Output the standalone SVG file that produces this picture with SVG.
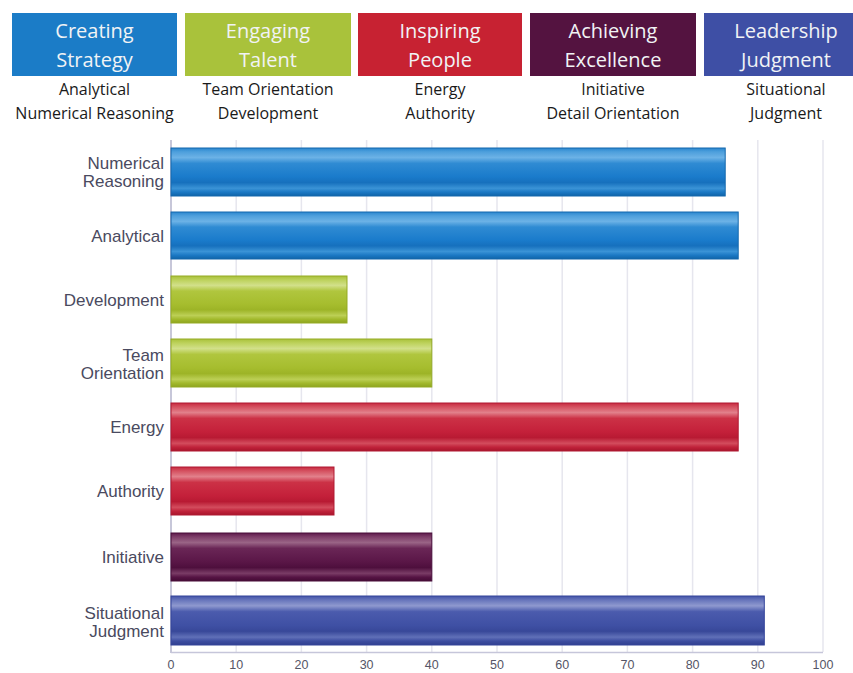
<svg xmlns="http://www.w3.org/2000/svg" width="853" height="673" viewBox="0 0 853 673">
<defs>
<linearGradient id="gBlue" x1="0" y1="0" x2="0" y2="1">
<stop offset="0" stop-color="#2a86cf"/><stop offset="0.08" stop-color="#4d9fdc"/><stop offset="0.2" stop-color="#6cb2e6"/><stop offset="0.32" stop-color="#2f8bd3"/><stop offset="0.6" stop-color="#1a7bcb"/><stop offset="0.72" stop-color="#1670bd"/><stop offset="0.84" stop-color="#3a93d6"/><stop offset="0.92" stop-color="#1b78c4"/><stop offset="1" stop-color="#0f64a8"/>
</linearGradient>
<linearGradient id="gGreen" x1="0" y1="0" x2="0" y2="1">
<stop offset="0" stop-color="#a9c13a"/><stop offset="0.08" stop-color="#bcd15a"/><stop offset="0.2" stop-color="#d2e08a"/><stop offset="0.32" stop-color="#b0c63e"/><stop offset="0.6" stop-color="#a6bd2e"/><stop offset="0.72" stop-color="#9db427"/><stop offset="0.84" stop-color="#bccf55"/><stop offset="0.92" stop-color="#a2b92c"/><stop offset="1" stop-color="#8ea41f"/>
</linearGradient>
<linearGradient id="gRed" x1="0" y1="0" x2="0" y2="1">
<stop offset="0" stop-color="#c82a40"/><stop offset="0.08" stop-color="#d4505f"/><stop offset="0.2" stop-color="#e2808b"/><stop offset="0.32" stop-color="#cc3146"/><stop offset="0.6" stop-color="#c4203a"/><stop offset="0.72" stop-color="#b81a33"/><stop offset="0.84" stop-color="#d34c5d"/><stop offset="0.92" stop-color="#c0223a"/><stop offset="1" stop-color="#a8152c"/>
</linearGradient>
<linearGradient id="gPurple" x1="0" y1="0" x2="0" y2="1">
<stop offset="0" stop-color="#5e1a4b"/><stop offset="0.08" stop-color="#7d3d68"/><stop offset="0.2" stop-color="#9a6486"/><stop offset="0.32" stop-color="#6a2656"/><stop offset="0.6" stop-color="#5a1647"/><stop offset="0.72" stop-color="#4e0f3d"/><stop offset="0.84" stop-color="#7a3c66"/><stop offset="0.92" stop-color="#561444"/><stop offset="1" stop-color="#440b35"/>
</linearGradient>
<linearGradient id="gIndigo" x1="0" y1="0" x2="0" y2="1">
<stop offset="0" stop-color="#4454a8"/><stop offset="0.08" stop-color="#6674bb"/><stop offset="0.2" stop-color="#8f99cf"/><stop offset="0.32" stop-color="#4b5bad"/><stop offset="0.6" stop-color="#3f50a4"/><stop offset="0.72" stop-color="#384899"/><stop offset="0.84" stop-color="#6070b8"/><stop offset="0.92" stop-color="#3c4ca0"/><stop offset="1" stop-color="#313f8f"/>
</linearGradient>
</defs>
<style>
.hdr{font-family:"Open Sans","Liberation Sans",sans-serif;font-size:20px;fill:#f1f3f5;text-anchor:middle}
.sub{font-family:"Open Sans","Liberation Sans",sans-serif;font-size:16px;fill:#1a1a1a;text-anchor:middle}
.lbl{font-family:"Liberation Sans",Arial,sans-serif;font-size:17px;fill:#4a4a60;text-anchor:end}
.tick{font-family:"Liberation Sans",Arial,sans-serif;font-size:12.5px;fill:#555566;text-anchor:middle}
.grid{stroke:#e6e6ee;stroke-width:1.5}
.bar{stroke-width:1}
</style>
<rect width="853" height="673" fill="#ffffff"/>

<g id="header-creating-strategy">
<rect x="12" y="13" width="165" height="63" fill="#1b7cc7"/>
<text class="hdr" x="94.5" y="38">Creating</text>
<text class="hdr" x="94.5" y="67">Strategy</text>
<text class="sub" x="94.5" y="95">Analytical</text>
<text class="sub" x="94.5" y="119">Numerical Reasoning</text>
</g>
<g id="header-engaging-talent">
<rect x="185" y="13" width="166" height="63" fill="#a9c23b"/>
<text class="hdr" x="268" y="38">Engaging</text>
<text class="hdr" x="268" y="67">Talent</text>
<text class="sub" x="268" y="95">Team Orientation</text>
<text class="sub" x="268" y="119">Development</text>
</g>
<g id="header-inspiring-people">
<rect x="358" y="13" width="164" height="63" fill="#c72232"/>
<text class="hdr" x="440" y="38">Inspiring</text>
<text class="hdr" x="440" y="67">People</text>
<text class="sub" x="440" y="95">Energy</text>
<text class="sub" x="440" y="119">Authority</text>
</g>
<g id="header-achieving-excellence">
<rect x="530" y="13" width="166" height="63" fill="#541340"/>
<text class="hdr" x="613" y="38">Achieving</text>
<text class="hdr" x="613" y="67">Excellence</text>
<text class="sub" x="613" y="95">Initiative</text>
<text class="sub" x="613" y="119">Detail Orientation</text>
</g>
<g id="header-leadership-judgment">
<rect x="704" y="13" width="149" height="63" fill="#3e4fa5"/>
<text class="hdr" x="786" y="38">Leadership</text>
<text class="hdr" x="786" y="67">Judgment</text>
<text class="sub" x="786" y="95">Situational</text>
<text class="sub" x="786" y="119">Judgment</text>
</g>

<g id="grid">
<line class="grid" x1="236.2" y1="140" x2="236.2" y2="652"/>
<line class="grid" x1="301.4" y1="140" x2="301.4" y2="652"/>
<line class="grid" x1="366.6" y1="140" x2="366.6" y2="652"/>
<line class="grid" x1="431.8" y1="140" x2="431.8" y2="652"/>
<line class="grid" x1="497" y1="140" x2="497" y2="652"/>
<line class="grid" x1="562.2" y1="140" x2="562.2" y2="652"/>
<line class="grid" x1="627.4" y1="140" x2="627.4" y2="652"/>
<line class="grid" x1="692.6" y1="140" x2="692.6" y2="652"/>
<line class="grid" x1="757.8" y1="140" x2="757.8" y2="652"/>
<line class="grid" x1="823" y1="140" x2="823" y2="652"/>
<line x1="171" y1="140" x2="171" y2="653" stroke="#b4b4cc" stroke-width="1.5"/>
<line x1="171" y1="652.5" x2="823" y2="652.5" stroke="#c6c6da" stroke-width="1.5"/>
</g>

<g id="ticks">
<text class="tick" x="171" y="669">0</text>
<text class="tick" x="236.2" y="669">10</text>
<text class="tick" x="301.4" y="669">20</text>
<text class="tick" x="366.6" y="669">30</text>
<text class="tick" x="431.8" y="669">40</text>
<text class="tick" x="497" y="669">50</text>
<text class="tick" x="562.2" y="669">60</text>
<text class="tick" x="627.4" y="669">70</text>
<text class="tick" x="692.6" y="669">80</text>
<text class="tick" x="757.8" y="669">90</text>
<text class="tick" x="823" y="669">100</text>
</g>

<g id="bar-numerical-reasoning">
<rect class="bar" x="171" y="148" width="554.2" height="48" fill="url(#gBlue)" stroke="#1468ad"/>
<text class="lbl" x="164" y="168.5">Numerical</text>
<text class="lbl" x="164" y="187">Reasoning</text>
</g>
<g id="bar-analytical">
<rect class="bar" x="171" y="212" width="567.2" height="47" fill="url(#gBlue)" stroke="#1468ad"/>
<text class="lbl" x="164" y="242">Analytical</text>
</g>
<g id="bar-development">
<rect class="bar" x="171" y="276" width="176" height="47" fill="url(#gGreen)" stroke="#95ab25"/>
<text class="lbl" x="164" y="305.5">Development</text>
</g>
<g id="bar-team-orientation">
<rect class="bar" x="171" y="339" width="260.8" height="48" fill="url(#gGreen)" stroke="#95ab25"/>
<text class="lbl" x="164" y="360.5">Team</text>
<text class="lbl" x="164" y="379">Orientation</text>
</g>
<g id="bar-energy">
<rect class="bar" x="171" y="403" width="567.2" height="48" fill="url(#gRed)" stroke="#b01a33"/>
<text class="lbl" x="164" y="433">Energy</text>
</g>
<g id="bar-authority">
<rect class="bar" x="171" y="467" width="163" height="48" fill="url(#gRed)" stroke="#b01a33"/>
<text class="lbl" x="164" y="497">Authority</text>
</g>
<g id="bar-initiative">
<rect class="bar" x="171" y="533" width="260.8" height="48" fill="url(#gPurple)" stroke="#4a0e3b"/>
<text class="lbl" x="164" y="563">Initiative</text>
</g>
<g id="bar-situational-judgment">
<rect class="bar" x="171" y="596" width="593.3" height="49" fill="url(#gIndigo)" stroke="#34449a"/>
<text class="lbl" x="164" y="618.5">Situational</text>
<text class="lbl" x="164" y="637">Judgment</text>
</g>
</svg>
